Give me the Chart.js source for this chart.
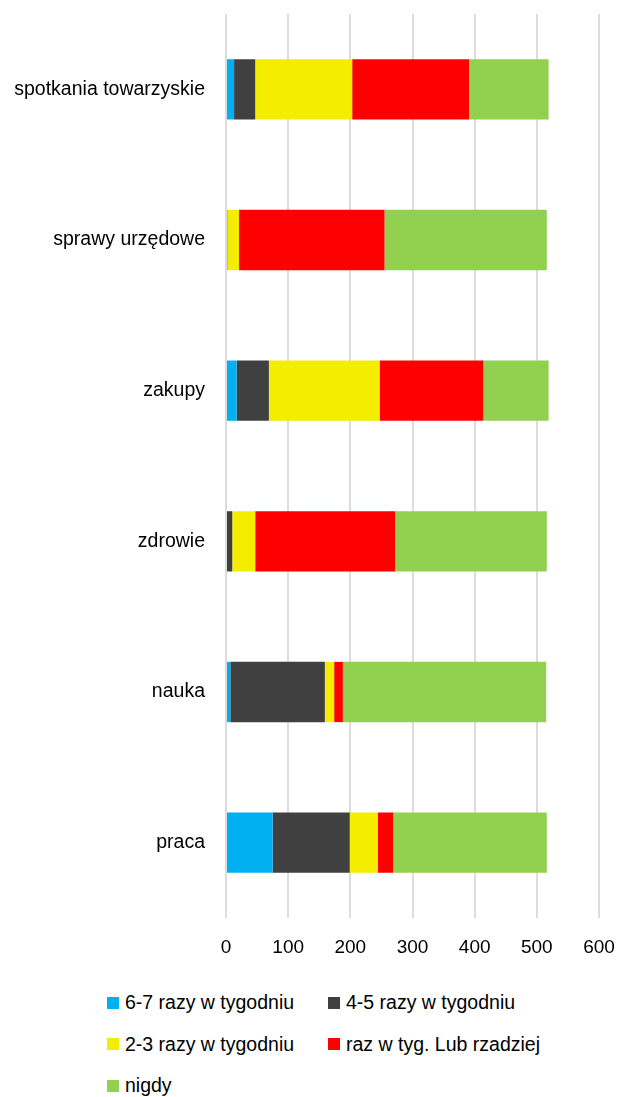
<!DOCTYPE html>
<html>
<head>
<meta charset="utf-8">
<script src="https://cdn.jsdelivr.net/npm/chart.js@4/dist/chart.umd.min.js"></script>
<style>
  html, body { margin: 0; padding: 0; background: #fff; }
  #wrap { position: relative; width: 618px; height: 1097px; }
  #chartBox { position: absolute; left: 0; top: 0; width: 618px; height: 975px; }
  #legend { position: absolute; left: 107px; top: 982px; display: grid;
    grid-template-columns: 221px auto; grid-auto-rows: 41.5px;
    font-family: "Liberation Sans", Arial, sans-serif; font-size: 19.5px; color: #000; }
  .item { display: flex; align-items: center; white-space: nowrap; }
  .sw { width: 12px; height: 12px; margin-right: 6px; flex: none; }
</style>
</head>
<body>
<div id="wrap">
  <div id="chartBox"><canvas id="c"></canvas></div>
  <div id="legend"></div>
</div>
<script>
const categories = ['spotkania towarzyskie', 'sprawy urzędowe', 'zakupy', 'zdrowie', 'nauka', 'praca'];
const seriesNames = ['6-7 razy w tygodniu', '4-5 razy w tygodniu', '2-3 razy w tygodniu', 'raz w tyg. Lub rzadziej', 'nigdy'];
const s67 = [13, 0, 17, 0, 7, 75];
const s45 = [34, 2, 52, 10, 152, 124];
const s23 = [156, 19, 178, 37, 15, 45];
const sRaz = [188, 234, 167, 225, 14, 25];
const sNigdy = [128, 261, 105, 244, 327, 247];
const xTicks = [0, 100, 200, 300, 400, 500, 600];
const colors = ['#00B0F0', '#404040', '#F4ED00', '#FF0000', '#92D050'];

const seriesData = [s67, s45, s23, sRaz, sNigdy];
const datasets = seriesData.map((d, i) => ({
  label: seriesNames[i],
  data: d,
  backgroundColor: colors[i],
  borderWidth: 0,
  barPercentage: 0.4,
  categoryPercentage: 1.0
}));

const FONT = '"Liberation Sans", Arial, sans-serif';

new Chart(document.getElementById('c'), {
  type: 'bar',
  data: { labels: categories, datasets },
  options: {
    indexAxis: 'y',
    responsive: true,
    maintainAspectRatio: false,
    animation: false,
    layout: { padding: { top: 14, right: 19, left: 0, bottom: 0 } },
    plugins: { legend: { display: false }, tooltip: { enabled: false } },
    scales: {
      x: {
        stacked: true,
        min: 0, max: 600,
        afterBuildTicks: (s) => { s.ticks = xTicks.map(v => ({ value: v })); },
        ticks: { color: '#000', font: { family: FONT, size: 19 }, padding: 18, maxRotation: 0 },
        grid: { color: '#dcdcdc', lineWidth: 2, drawTicks: false },
        border: { display: false },
        afterFit: (s) => { s.height = 975 - 918; s.paddingLeft = 0; s.paddingRight = 0; }
      },
      y: {
        stacked: true,
        ticks: { color: '#000', font: { family: FONT, size: 19.5 }, padding: 21 },
        grid: { display: false, drawTicks: false },
        border: { display: false },
        afterFit: (s) => { s.width = 226; s.paddingTop = 0; s.paddingBottom = 0; }
      }
    }
  }
});

const lg = document.getElementById('legend');
seriesNames.forEach((n, i) => {
  const it = document.createElement('div');
  it.className = 'item';
  const sw = document.createElement('span');
  sw.className = 'sw';
  sw.style.background = colors[i];
  const t = document.createElement('span');
  t.textContent = n;
  it.appendChild(sw); it.appendChild(t);
  lg.appendChild(it);
});
</script>
</body>
</html>
